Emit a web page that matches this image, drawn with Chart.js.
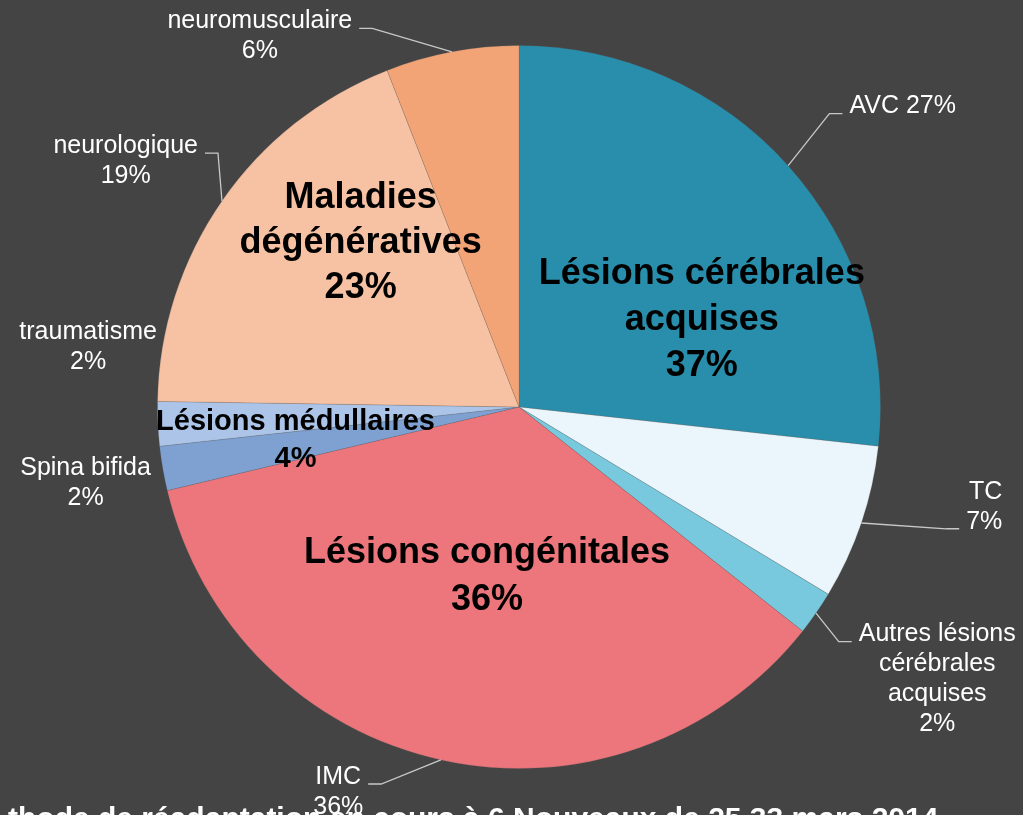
<!DOCTYPE html>
<html lang="fr">
<head>
<meta charset="utf-8">
<title>Répartition des pathologies</title>
<script src="https://cdn.jsdelivr.net/npm/chart.js@4/dist/chart.umd.min.js"></script>
<style>
  html, body { margin: 0; padding: 0; background: #444444; overflow: hidden; }
  #wrap { width: 1023px; height: 815px; }
</style>
</head>
<body>
<div id="wrap"><canvas id="pathoChart" width="1023" height="815"></canvas></div>
<script>
// slices, clockwise from 12 o'clock
const categories = ['AVC', 'TC', 'Autres lésions cérébrales acquises', 'IMC', 'Spina bifida', 'traumatisme', 'neurologique', 'neuromusculaire'];
const values = [27, 7, 2, 36, 2, 2, 19, 6];

// groups of slices
const groupNames = ['Lésions cérébrales acquises', 'Lésions congénitales', 'Lésions médullaires', 'Maladies dégénératives'];
const groupValues = [37, 36, 4, 23];
const groupFirst = [0, 3, 4, 6];
const groupLast = [2, 3, 5, 7];

const footerText = 'thode de réadaptation en cours à 6 Nouveaux de 25 33 mars 2014';

// styles / layout
const sliceColors = ['#288EAB', '#EAF6FB', '#78C9DE', '#EC767B', '#7EA1D2', '#ABC4E8', '#F7C2A3', '#F2A477'];
const FONT = '"Liberation Sans", Arial, sans-serif';

// label anchor relative to pie centre, in units of the radius
const outerLayout = [
  { fx: 0.914, fy: -0.831, align: 'left', inline: true, leader: 'left', line: 0 },
  { fx: 1.337, fy: 0.276, align: 'right', leader: 'left', line: 1 },
  { fx: 1.157, fy: 0.754, align: 'center', leader: 'left', line: 0 },
  { fx: -0.500, fy: 1.065, align: 'center', leader: 'right', line: 0 },
  { fx: -1.199, fy: 0.211, align: 'center' },
  { fx: -1.192, fy: -0.167, align: 'center' },
  { fx: -1.088, fy: -0.680, align: 'center', leader: 'right', line: 0 },
  { fx: -0.717, fy: -1.025, align: 'center', leader: 'right', line: 0 }
];
const groupLayout = [
  { r: 0.56, da: 0.4, size: 36, lh: 46 },
  { r: 0.478, da: -1.8, size: 36, lh: 47 },
  { r: 0.625, da: -2.2, size: 29, lh: 37 },
  { r: 0.63, da: 0.5, size: 36, lh: 45 }
];

function wrap(ctx, text, maxW) {
  const words = text.split(' ');
  const lines = [];
  let cur = '';
  words.forEach(w => {
    const test = cur ? cur + ' ' + w : w;
    if (cur && ctx.measureText(test).width > maxW) {
      lines.push(cur);
      cur = w;
    } else {
      cur = test;
    }
  });
  if (cur) lines.push(cur);
  return lines;
}

const pieLabels = {
  id: 'pieLabels',
  beforeDraw(chart) {
    const ctx = chart.ctx;
    ctx.save();
    ctx.fillStyle = '#444444';
    ctx.fillRect(0, 0, chart.width, chart.height);
    ctx.restore();
  },
  afterDatasetsDraw(chart) {
    const ctx = chart.ctx;
    const arcs = chart.getDatasetMeta(0).data;
    const p0 = arcs[0].getProps(['x', 'y', 'outerRadius'], true);
    const cx = p0.x, cy = p0.y, R = p0.outerRadius;

    ctx.save();
    // footer line, cut by the bottom edge
    ctx.font = 'bold 30px ' + FONT;
    ctx.fillStyle = '#ffffff';
    ctx.textAlign = 'left';
    ctx.textBaseline = 'alphabetic';
    ctx.fillText(footerText, 8, 828);

    // group labels inside the pie
    ctx.fillStyle = '#000000';
    ctx.textAlign = 'center';
    ctx.textBaseline = 'middle';
    groupNames.forEach((name, g) => {
      const lay = groupLayout[g];
      const a = arcs[groupFirst[g]].getProps(['startAngle'], true).startAngle;
      const b = arcs[groupLast[g]].getProps(['endAngle'], true).endAngle;
      const mid = (a + b) / 2 + lay.da * Math.PI / 180;
      const x = cx + Math.cos(mid) * R * lay.r;
      const y = cy + Math.sin(mid) * R * lay.r;
      ctx.font = 'bold ' + lay.size + 'px ' + FONT;
      const lines = wrap(ctx, name, 385).concat([groupValues[g] + '%']);
      const top = y - (lines.length - 1) * lay.lh / 2;
      lines.forEach((t, i) => ctx.fillText(t, x, top + i * lay.lh));
    });

    // outer category labels with leader lines
    ctx.font = '25px ' + FONT;
    const lh = 30;
    categories.forEach((cat, i) => {
      const lay = outerLayout[i];
      const lines = lay.inline ? [cat + ' ' + values[i] + '%'] : wrap(ctx, cat, 175).concat([values[i] + '%']);
      const ax = cx + lay.fx * R;
      const ay = cy + lay.fy * R;
      const top = ay - (lines.length - 1) * lh / 2;
      ctx.textAlign = lay.align;
      ctx.fillStyle = '#ffffff';
      lines.forEach((t, k) => ctx.fillText(t, ax, top + k * lh));

      if (lay.leader) {
        const t = lines[lay.line];
        const w = ctx.measureText(t).width;
        let left = ax;
        if (lay.align === 'center') left = ax - w / 2;
        if (lay.align === 'right') left = ax - w;
        const ly = top + lay.line * lh + 7;
        const tickEnd = lay.leader === 'left' ? left - 7 : left + w + 7;
        const elbow = lay.leader === 'left' ? tickEnd - 13 : tickEnd + 13;
        const p = arcs[i].getProps(['startAngle', 'endAngle'], true);
        const m = (p.startAngle + p.endAngle) / 2;
        ctx.strokeStyle = '#c8c8c8';
        ctx.lineWidth = 1.3;
        ctx.beginPath();
        ctx.moveTo(cx + Math.cos(m) * R, cy + Math.sin(m) * R);
        ctx.lineTo(elbow, ly);
        ctx.lineTo(tickEnd, ly);
        ctx.stroke();
      }
    });
    ctx.restore();
  }
};

const canvas = document.getElementById('pathoChart');
new Chart(canvas, {
  type: 'pie',
  data: {
    labels: categories,
    datasets: [{
      data: values,
      backgroundColor: sliceColors,
      borderColor: 'rgba(90,90,90,0.2)',
      borderWidth: 1
    }]
  },
  options: {
    responsive: false,
    animation: false,
    events: [],
    layout: { padding: { left: 157, right: 142, top: 45, bottom: 46 } },
    plugins: {
      legend: { display: false },
      tooltip: { enabled: false }
    }
  },
  plugins: [pieLabels]
});
</script>
</body>
</html>
